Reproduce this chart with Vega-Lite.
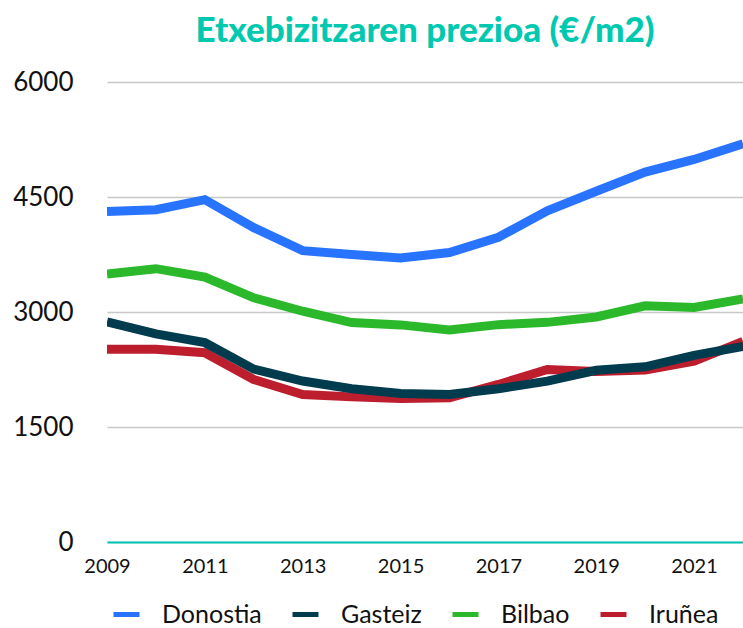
{
  "$schema": "https://vega.github.io/schema/vega-lite/v6.json",
  "width": 636,
  "height": 460,
  "autosize": {"type": "none"},
  "padding": {"left": 107, "top": 82, "right": 0, "bottom": 86},
  "background": "white",
  "title": {
    "text": "Etxebizitzaren prezioa (€/m2)",
    "font": "Lato",
    "fontWeight": 900,
    "fontSize": 35,
    "color": "#00c9b0",
    "anchor": "middle",
    "offset": 20
  },
  "config": {
    "view": {"stroke": null},
    "font": "Lato"
  },
  "data": {
    "values": [
      {"year": 2009, "city": "Donostia", "price": 4310},
      {"year": 2010, "city": "Donostia", "price": 4335},
      {"year": 2011, "city": "Donostia", "price": 4465},
      {"year": 2012, "city": "Donostia", "price": 4100},
      {"year": 2013, "city": "Donostia", "price": 3800},
      {"year": 2014, "city": "Donostia", "price": 3750},
      {"year": 2015, "city": "Donostia", "price": 3705},
      {"year": 2016, "city": "Donostia", "price": 3775},
      {"year": 2017, "city": "Donostia", "price": 3975},
      {"year": 2018, "city": "Donostia", "price": 4320},
      {"year": 2019, "city": "Donostia", "price": 4575},
      {"year": 2020, "city": "Donostia", "price": 4825},
      {"year": 2021, "city": "Donostia", "price": 4990},
      {"year": 2022, "city": "Donostia", "price": 5195},
      {"year": 2009, "city": "Gasteiz", "price": 2870},
      {"year": 2010, "city": "Gasteiz", "price": 2715},
      {"year": 2011, "city": "Gasteiz", "price": 2600},
      {"year": 2012, "city": "Gasteiz", "price": 2255},
      {"year": 2013, "city": "Gasteiz", "price": 2100},
      {"year": 2014, "city": "Gasteiz", "price": 2000},
      {"year": 2015, "city": "Gasteiz", "price": 1937},
      {"year": 2016, "city": "Gasteiz", "price": 1925},
      {"year": 2017, "city": "Gasteiz", "price": 1998},
      {"year": 2018, "city": "Gasteiz", "price": 2098},
      {"year": 2019, "city": "Gasteiz", "price": 2240},
      {"year": 2020, "city": "Gasteiz", "price": 2285},
      {"year": 2021, "city": "Gasteiz", "price": 2435},
      {"year": 2022, "city": "Gasteiz", "price": 2550},
      {"year": 2009, "city": "Bilbao", "price": 3495},
      {"year": 2010, "city": "Bilbao", "price": 3565},
      {"year": 2011, "city": "Bilbao", "price": 3455},
      {"year": 2012, "city": "Bilbao", "price": 3185},
      {"year": 2013, "city": "Bilbao", "price": 3010},
      {"year": 2014, "city": "Bilbao", "price": 2862},
      {"year": 2015, "city": "Bilbao", "price": 2832},
      {"year": 2016, "city": "Bilbao", "price": 2766},
      {"year": 2017, "city": "Bilbao", "price": 2835},
      {"year": 2018, "city": "Bilbao", "price": 2865},
      {"year": 2019, "city": "Bilbao", "price": 2935},
      {"year": 2020, "city": "Bilbao", "price": 3081},
      {"year": 2021, "city": "Bilbao", "price": 3059},
      {"year": 2022, "city": "Bilbao", "price": 3170},
      {"year": 2009, "city": "Iruñea", "price": 2513},
      {"year": 2010, "city": "Iruñea", "price": 2513},
      {"year": 2011, "city": "Iruñea", "price": 2469},
      {"year": 2012, "city": "Iruñea", "price": 2120},
      {"year": 2013, "city": "Iruñea", "price": 1924},
      {"year": 2014, "city": "Iruñea", "price": 1893},
      {"year": 2015, "city": "Iruñea", "price": 1871},
      {"year": 2016, "city": "Iruñea", "price": 1880},
      {"year": 2017, "city": "Iruñea", "price": 2055},
      {"year": 2018, "city": "Iruñea", "price": 2251},
      {"year": 2019, "city": "Iruñea", "price": 2225},
      {"year": 2020, "city": "Iruñea", "price": 2242},
      {"year": 2021, "city": "Iruñea", "price": 2360},
      {"year": 2022, "city": "Iruñea", "price": 2615}
    ]
  },
  "encoding": {
    "x": {
      "field": "year",
      "type": "quantitative",
      "scale": {"domain": [2009, 2022], "nice": false, "zero": false},
      "axis": {
        "title": null,
        "values": [2009, 2011, 2013, 2015, 2017, 2019, 2021],
        "format": "d",
        "grid": false,
        "ticks": false,
        "domain": true,
        "domainColor": "#00c4b4",
        "domainWidth": 2,
        "labelFont": "Lato",
        "labelFontSize": 20,
        "labelColor": "#111111",
        "labelPadding": 14,
        "labelFlush": false
      }
    },
    "y": {
      "field": "price",
      "type": "quantitative",
      "scale": {"domain": [0, 6000], "nice": false},
      "axis": {
        "title": null,
        "values": [0, 1500, 3000, 4500, 6000],
        "format": "d",
        "grid": true,
        "gridColor": "#c8c8c8",
        "gridWidth": 1.5,
        "ticks": false,
        "domain": false,
        "labelFont": "Lato",
        "labelFontSize": 26,
        "labelColor": "#111111",
        "labelPadding": 34
      }
    },
    "color": {
      "field": "city",
      "type": "nominal",
      "scale": {
        "domain": ["Donostia", "Gasteiz", "Bilbao", "Iruñea"],
        "range": ["#2873ff", "#003c4d", "#2bb92b", "#bd1e2e"]
      },
      "legend": {
        "title": null,
        "orient": "none",
        "direction": "horizontal",
        "gridAlign": "none",
        "legendX": 4,
        "legendY": 517,
        "symbolType": "stroke",
        "symbolSize": 676,
        "symbolStrokeWidth": 5,
        "labelFont": "Lato",
        "labelFontSize": 25,
        "labelColor": "#111111",
        "labelOffset": 20,
        "columnPadding": 20
      }
    }
  },
  "layer": [
    {
      "transform": [{"filter": "datum.city === 'Iruñea'"}],
      "mark": {"type": "line", "strokeWidth": 9, "strokeCap": "butt", "strokeJoin": "miter", "clip": true}
    },
    {
      "transform": [{"filter": "datum.city !== 'Iruñea'"}],
      "mark": {"type": "line", "strokeWidth": 9, "strokeCap": "butt", "strokeJoin": "miter", "clip": true}
    }
  ]
}
